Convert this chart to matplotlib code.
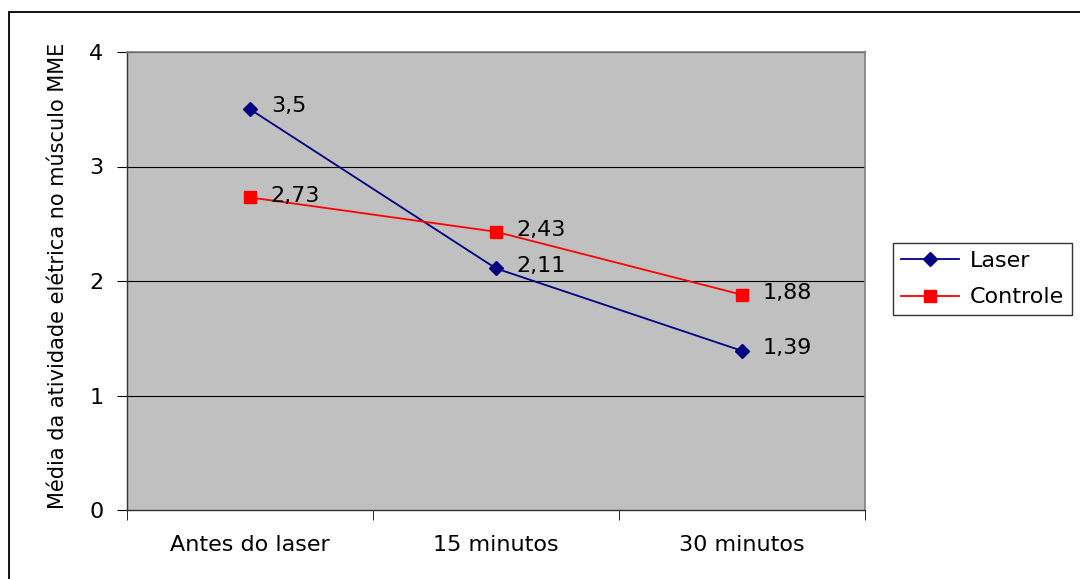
import matplotlib.pyplot as plt
import matplotlib.patches as mpatches
import numpy as np

plt.rcParams["font.family"] = ["DejaVu Sans"]

categories = ["Antes do laser", "15 minutos", "30 minutos"]
laser = [3.5, 2.11, 1.39]
controle = [2.73, 2.43, 1.88]
laser_labels = ["3,5", "2,11", "1,39"]
controle_labels = ["2,73", "2,43", "1,88"]
y_ticks = [0, 1, 2, 3, 4]

FS = 16

fig = plt.figure(figsize=(10.8, 5.79), dpi=100)
# outer chart frame (cut at right/bottom edges like the original)
fig.patches.append(mpatches.Rectangle((9 / 1080, -0.05), 1.2, 1 - 12 / 579 + 0.05,
                                      transform=fig.transFigure, fill=False,
                                      edgecolor="black", linewidth=1.3))

ax = fig.add_axes([127 / 1080, 1 - 510 / 579, (865 - 127) / 1080, (510 - 52) / 579])
ax.set_facecolor("#C0C0C0")
x = np.arange(len(categories))

for v in y_ticks[1:]:
    ax.axhline(v, color="black", linewidth=0.8, zorder=1)

ax.plot(x, laser, color="#000080", marker="D", markersize=7.5, linewidth=1.3,
        label="Laser", zorder=3)
ax.plot(x, controle, color="#FF0000", marker="s", markersize=8.5, linewidth=1.3,
        label="Controle", zorder=3)

for xi, v, t in zip(x, laser, laser_labels):
    ax.annotate(t, (xi, v), xytext=(15, 2), textcoords="offset points",
                fontsize=FS, va="center", ha="left")
for xi, v, t in zip(x, controle, controle_labels):
    ax.annotate(t, (xi, v), xytext=(15, 1), textcoords="offset points",
                fontsize=FS, va="center", ha="left")

ax.set_xlim(-0.5, 2.5)
ax.set_ylim(0, 4)
ax.set_yticks(y_ticks)
ax.set_yticklabels([str(v) for v in y_ticks], fontsize=FS)
ax.set_xticks(x)
ax.set_xticklabels(categories, fontsize=FS)
ax.tick_params(axis="x", length=0, pad=18)
ax.set_xticks([-0.5, 0.5, 1.5, 2.5], minor=True)
ax.tick_params(axis="x", which="minor", length=7, direction="out", color="black")
ax.tick_params(axis="y", length=7, direction="out", pad=10)

for s in ["top", "right"]:
    ax.spines[s].set_color("#808080")
    ax.spines[s].set_linewidth(1.2)
for s in ["left", "bottom"]:
    ax.spines[s].set_color("#333333")
    ax.spines[s].set_linewidth(1.0)

ax.set_ylabel("Média da atividade elétrica no músculo MME", fontsize=15)
ax.yaxis.set_label_coords(-0.08, 0.511)

leg = ax.legend(loc="center left", bbox_to_anchor=(893 / 1080, 1 - 279 / 579),
                bbox_transform=fig.transFigure, fontsize=FS, frameon=True,
                fancybox=False, edgecolor="black", handlelength=2.6,
                borderpad=0.35, labelspacing=0.75, handletextpad=0.5,
                borderaxespad=0)
leg.get_frame().set_linewidth(1.0)

fig.savefig("out.png", dpi=100)
